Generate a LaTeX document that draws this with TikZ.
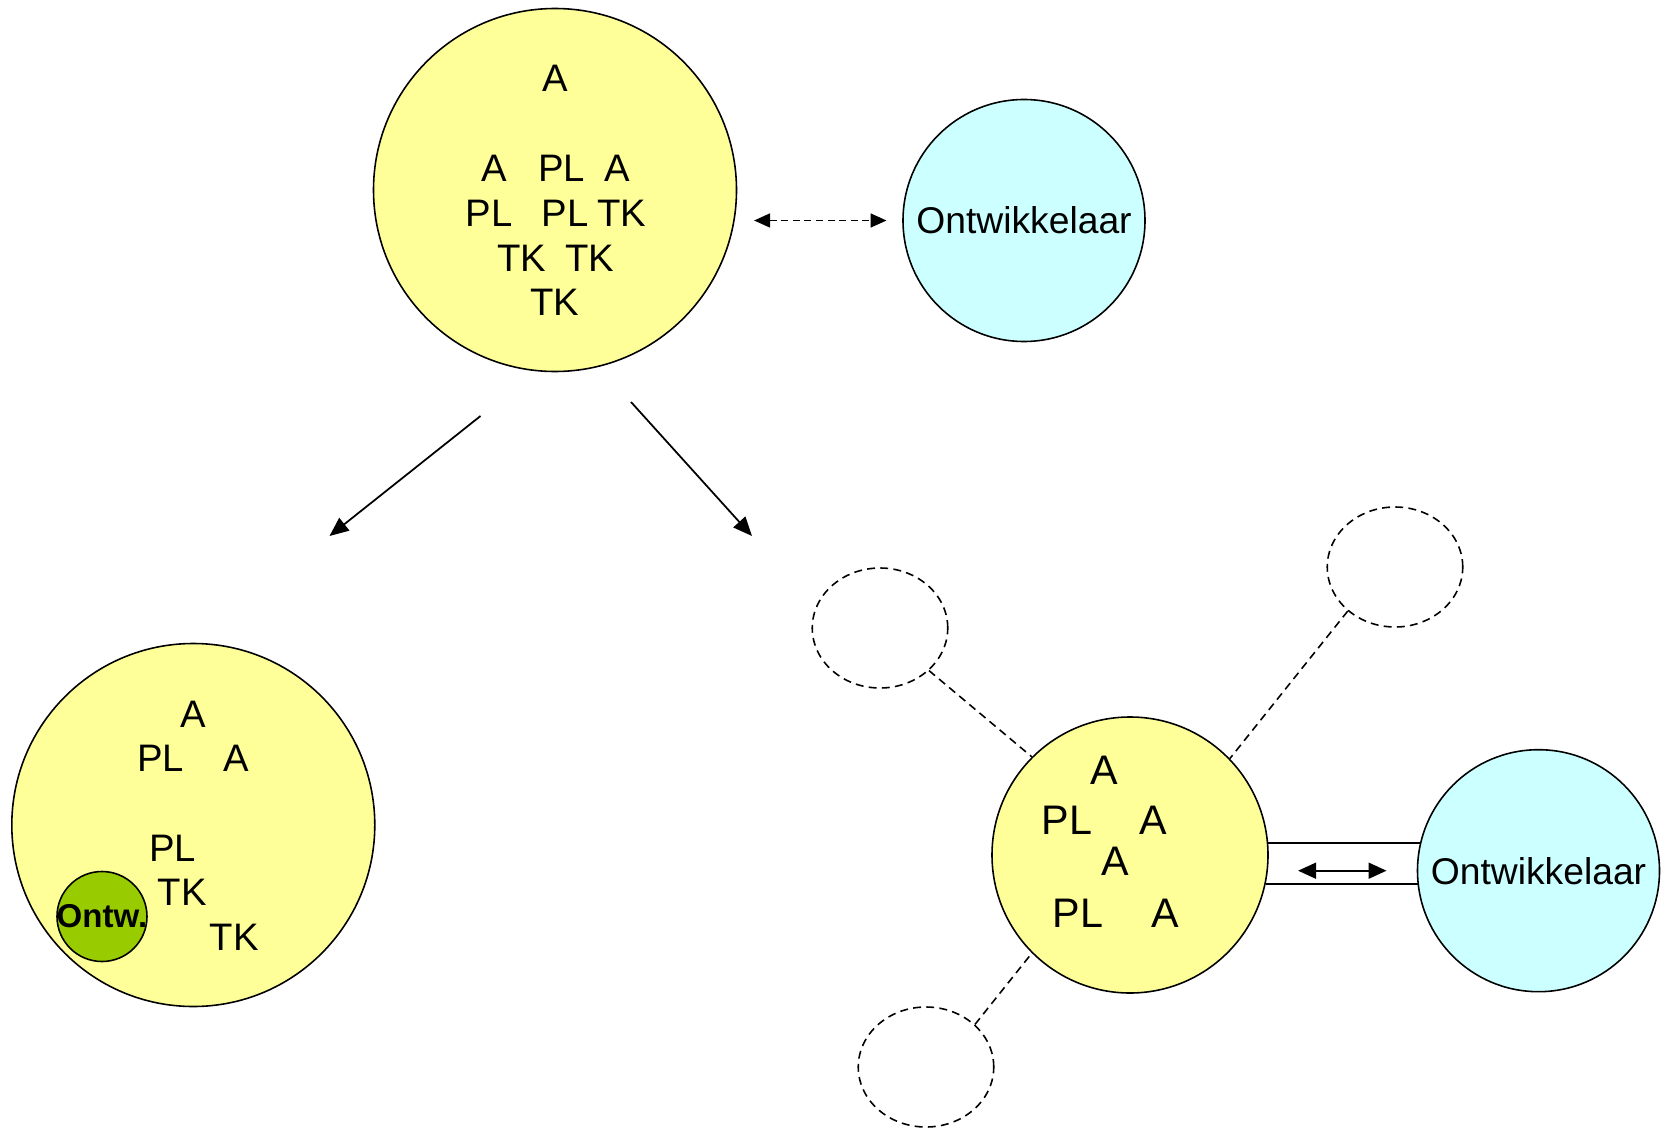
\documentclass[tikz,border=0pt]{standalone}
\usepackage{fontspec}
\setmainfont{Liberation Sans}
\usetikzlibrary{arrows.meta,shapes.geometric}

\definecolor{groupyellow}{HTML}{FFFF99}
\definecolor{devcyan}{HTML}{CCFFFF}
\definecolor{devgreen}{HTML}{99CC00}

\begin{document}
\begin{tikzpicture}[
    group/.style={circle, draw, line width=0.9pt, fill=groupyellow, inner sep=0pt},
    dev/.style={circle, draw, line width=0.9pt, fill=devcyan, inner sep=0pt, minimum size=4.84cm, font=\fontsize{21.2}{25}\selectfont},
    ghost/.style={ellipse, draw, line width=0.9pt, dash pattern=on 4.5pt off 3pt, minimum width=2.71cm, minimum height=2.40cm, inner sep=0pt},
    tok/.style={inner sep=0pt, font=\fontsize{21.8}{26}\selectfont},
    bigtok/.style={inner sep=0pt, font=\fontsize{23.5}{28}\selectfont},
    ontw/.style={circle, draw, line width=0.9pt, fill=devgreen, minimum size=1.8cm, inner sep=0pt},
    ontwtext/.style={inner sep=0pt, font=\bfseries\fontsize{18.8}{22}\selectfont},
    link/.style={line width=1pt, -{Triangle[length=0.38cm,width=0.32cm]}},
    swap/.style={line width=1pt, {Triangle[length=0.36cm,width=0.32cm]}-{Triangle[length=0.36cm,width=0.32cm]}},
    dswap/.style={line width=1pt, dash pattern=on 4pt off 2.6pt, {Triangle[length=0.32cm,width=0.28cm]}-{Triangle[length=0.32cm,width=0.28cm]}},
    tie/.style={line width=0.9pt},
    ghostlink/.style={line width=0.9pt, dash pattern=on 4.5pt off 3pt},
]
\useasboundingbox (0,0) rectangle (33.42,-22.66);

% top: one group, developer outside
\node[group, minimum size=7.26cm] (top) at (11.10,-3.80) {};
\node[dev] (topdev) at (20.48,-4.41) {Ontwikkelaar};
\node[tok] (t1) at (11.10,-1.574) {A};
\node[tok] (t2) at (9.88,-3.368) {A};
\node[tok] (t3) at (11.234,-3.368) {PL};
\node[tok] (t4) at (12.34,-3.368) {A};
\node[tok] (t5) at (9.78,-4.264) {PL};
\node[tok] (t6) at (11.30,-4.264) {PL};
\node[tok] (t7) at (12.44,-4.264) {TK};
\node[tok] (t8) at (10.44,-5.16) {TK};
\node[tok] (t9) at (11.80,-5.16) {TK};
\node[tok] (t10) at (11.10,-6.056) {TK};
\draw[dswap, shorten <=0.336cm, shorten >=0.314cm] (top.east |- topdev.west) -- (topdev.west);

% split arrows
\coordinate (ls) at (9.61,-8.32);
\coordinate (le) at (6.59,-10.72);
\coordinate (rs) at (12.62,-8.04);
\coordinate (re) at (15.04,-10.72);
\draw[link] (ls) -- (le);
\draw[link] (rs) -- (re);

% left: developer inside the group
\node[group, minimum size=7.26cm] (left) at (3.866,-16.50) {};
\node[tok] (l1) at (3.856,-14.294) {A};
\node[tok] (l2) at (3.21,-15.176) {PL};
\node[tok] (l3) at (4.734,-15.176) {A};
\node[tok] (l4) at (3.45,-16.97) {PL};
\node[tok] (l5) at (3.644,-17.85) {TK};
\node[tok] (l6) at (4.686,-18.75) {TK};
\node[ontw] (leftdev) at (2.04,-18.33) {};
\node[ontwtext] (leftdevlbl) at (leftdev) {Ontw.};

% right: small group, other groups, developer outside
\node[group, minimum size=5.52cm] (right) at (22.60,-17.10) {};
\node[dev] (rightdev) at (30.77,-17.414) {Ontwikkelaar};
\node[bigtok] (r1) at (22.084,-15.40) {A};
\node[bigtok] (r2) at (21.34,-16.406) {PL};
\node[bigtok] (r3) at (23.074,-16.406) {A};
\node[bigtok] (r4) at (22.306,-17.226) {A};
\node[bigtok] (r5) at (21.56,-18.266) {PL};
\node[bigtok] (r6) at (23.30,-18.266) {A};
\node[ghost] (g1) at (17.60,-12.56) {};
\node[ghost] (g2) at (27.90,-11.34) {};
\node[ghost] (g3) at (18.52,-21.34) {};
\draw[ghostlink] (g1.319) -- (right.135.6);
\draw[ghostlink] (g2.223) -- (right.44.6);
\draw[ghostlink] (g3.41.8) -- (right.225.7);
\draw[tie] (right.5.9) -- (right.5.9 -| rightdev.165.7);
\draw[tie] (right.-12.8) -- (right.-12.8 -| rightdev.187.1);
\draw[swap, shorten <=0.586cm, shorten >=0.604cm] (right.east |- rightdev.west) -- (rightdev.west);

\end{tikzpicture}
\end{document}
